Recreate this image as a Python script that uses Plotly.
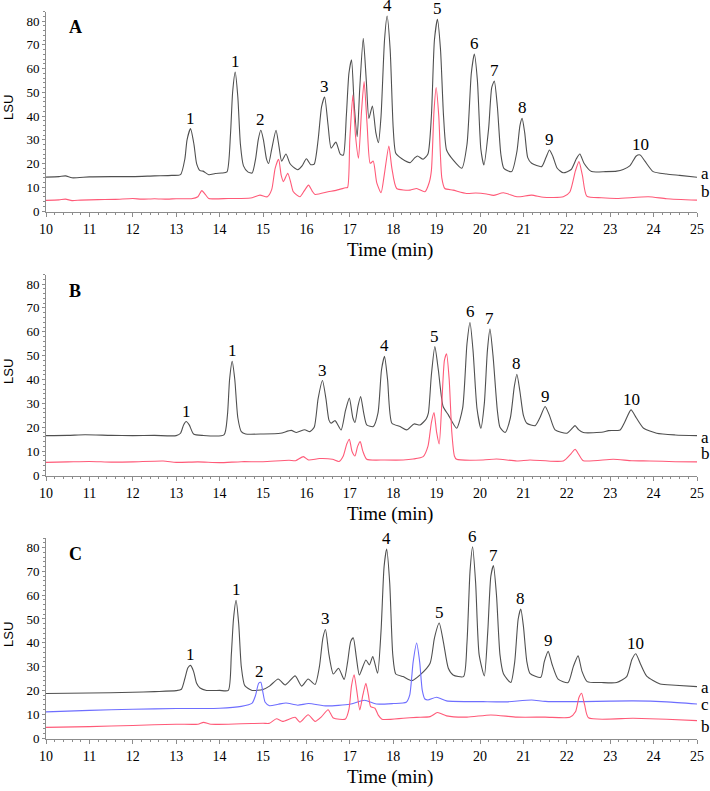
import plotly.graph_objects as go

# ---------------- Panel A ----------------
A_time_a = [10.0, 10.3, 10.45, 10.6, 11.0, 11.5, 12.0, 12.5, 12.9, 13.1, 13.2, 13.25, 13.33, 13.41, 13.47,
            13.55, 13.62, 13.75, 13.9, 14.05, 14.17, 14.25, 14.3, 14.36, 14.42, 14.48, 14.55, 14.65, 14.75,
            14.83, 14.89, 14.95, 15.01, 15.08, 15.13, 15.2, 15.3, 15.37, 15.43, 15.53, 15.62, 15.7, 15.8,
            15.9, 16.0, 16.1, 16.18, 16.27, 16.35, 16.42, 16.5, 16.57, 16.68, 16.78, 16.85, 16.92, 16.98,
            17.04, 17.1, 17.17, 17.23, 17.31, 17.38, 17.44, 17.52, 17.6, 17.66, 17.72, 17.8, 17.86, 17.93,
            18.0, 18.06, 18.2, 18.39, 18.5, 18.56, 18.69, 18.8, 18.88, 18.95, 19.02, 19.09, 19.16, 19.23,
            19.38, 19.58, 19.7, 19.8, 19.87, 19.94, 20.02, 20.09, 20.2, 20.27, 20.33, 20.4, 20.48, 20.55,
            20.73, 20.85, 20.92, 20.97, 21.03, 21.1, 21.19, 21.42, 21.52, 21.6, 21.68, 21.78, 21.92, 22.1,
            22.22, 22.3, 22.4, 22.57, 22.9, 23.15, 23.3, 23.45, 23.6, 23.69, 23.8, 23.99, 24.3, 24.6, 25.0]
A_lsu_a = [14.3, 14.5, 14.8, 14.0, 14.4, 14.5, 14.5, 14.8, 15.0, 15.3, 22, 30, 34.7, 28, 20,
           17, 16.8, 15.3, 15.8, 16, 16.5, 32, 50, 58.5, 48, 28, 19, 16.5, 16.0,
           22, 30, 34, 30, 22, 20, 26, 34, 27, 21, 24, 20, 18.5, 17.4,
           19, 22, 19.5, 19.8, 30, 44, 48, 36, 26.5, 29, 24, 23.5, 40, 58,
           63.7, 45, 31.3, 52, 72.7, 55, 39, 44.2, 33, 28.8, 40, 72, 82.1, 68,
           35, 24.3, 22, 20.4, 22.5, 23.2, 21.8, 24, 40, 72, 80.7, 68, 40, 25.7,
           21.5, 18, 28, 58, 66.1, 55, 26, 19.4, 35, 52, 54.7, 44, 24, 18,
           16.6, 25, 36, 39, 33, 22.5, 20.1, 18.7, 22.5, 25.7, 23, 18, 16.1, 17.5,
           22, 24, 20, 16.6, 16.6, 16.8, 17.5, 19, 23.2, 23.6, 21, 16.6, 15.6, 15, 14.2]

A_time_b = [10.0, 10.3, 10.45, 10.6, 10.8, 11.2, 11.6, 12.0, 12.2, 12.5, 12.8, 13.0, 13.35, 13.5, 13.59,
            13.67, 13.75, 14.2, 14.5, 14.75, 14.93, 15.1, 15.2, 15.28, 15.36, 15.42, 15.47, 15.57, 15.64,
            15.7, 15.85, 15.95, 16.05, 16.13, 16.2, 16.5, 16.7, 16.9, 16.95, 17.0, 17.07, 17.13, 17.2,
            17.27, 17.33, 17.4, 17.47, 17.54, 17.62, 17.72, 17.8, 17.9, 17.97, 18.08, 18.39, 18.54, 18.73,
            18.83, 18.88, 18.94, 18.99, 19.05, 19.12, 19.19, 19.38, 19.69, 19.9, 20.15, 20.31, 20.54, 20.85,
            21.19, 21.46, 21.92, 22.07, 22.2, 22.28, 22.36, 22.46, 22.8, 23.15, 23.88, 24.3, 25.0]
A_lsu_b = [4.5, 4.7, 5.0, 4.4, 4.6, 4.8, 4.9, 5.3, 5.0, 5.2, 5.0, 5.2, 5.2, 6, 8.6,
           7, 5.3, 5.3, 5.3, 5.6, 6.7, 6.0, 9, 18, 21.8, 15, 12.4, 15.9, 12,
           8.1, 6.0, 8.5, 10.9, 8.5, 7, 8.1, 8.8, 9.8, 10, 30, 48.8, 32, 22.2,
           42, 54.5, 36, 20.1, 21, 12, 7.7, 16, 27.4, 18, 9.5, 8.8, 9.5, 8.1,
           12, 17, 42, 52, 40, 14, 9.5, 8.8, 7.4, 7.6, 7.2, 6.6, 7.7, 6.0,
           6.7, 5.8, 6.0, 8, 17, 20.8, 15, 6.3, 5.6, 5.3, 6.0, 5.2, 4.6]

A_peak_labels = ["1", "1", "2", "3", "4", "5", "6", "7", "8", "9", "10"]
A_peak_time = [13.33, 14.36, 14.95, 16.42, 17.86, 19.02, 19.87, 20.33, 20.97, 21.6, 23.69]
A_peak_lsu = [34.7, 58.5, 34, 48, 82.1, 80.7, 66.1, 54.7, 39, 25.7, 23.6]

# ---------------- Panel B ----------------
B_time_a = [10.0, 10.5, 10.9, 11.5, 12.0, 12.5, 13.0, 13.1, 13.17, 13.23, 13.3, 13.4, 13.6, 14.1, 14.18,
            14.23, 14.29, 14.35, 14.42, 14.5, 14.6, 15.0, 15.4, 15.65, 15.77, 15.96, 16.08, 16.18, 16.27,
            16.37, 16.45, 16.52, 16.57, 16.66, 16.8, 16.9, 16.99, 17.07, 17.12, 17.19, 17.25, 17.32, 17.39,
            17.54, 17.65, 17.73, 17.8, 17.87, 17.97, 18.16, 18.31, 18.48, 18.62, 18.76, 18.81, 18.88, 18.96,
            19.04, 19.15, 19.27, 19.46, 19.6, 19.7, 19.77, 19.84, 19.93, 20.02, 20.1, 20.17, 20.23, 20.3,
            20.4, 20.46, 20.58, 20.7, 20.79, 20.85, 20.92, 21.0, 21.08, 21.27, 21.38, 21.5, 21.6, 21.73,
            22.0, 22.12, 22.19, 22.27, 22.38, 22.84, 22.96, 23.23, 23.33, 23.48, 23.6, 23.77, 24.07, 24.5, 25.0]
B_lsu_a = [16.5, 16.6, 16.9, 16.6, 16.5, 16.6, 16.5, 17.5, 21, 22.4, 21, 17.2, 16.6, 16.8, 25,
           40, 47.6, 40, 24, 18.2, 17.2, 17.2, 17.5, 18.7, 17.8, 19.0, 18.2, 20, 32,
           39.6, 32, 23, 21.7, 22.8, 18.9, 27, 32.2, 24, 22, 29, 32.9, 26, 21,
           20.3, 26, 44, 49.7, 40, 21.7, 20.3, 18.9, 21.4, 21, 23.5, 25.9, 42, 53.8,
           44, 28.7, 25.2, 19.6, 28, 55, 63.9, 52, 28, 19.6, 30, 52, 61.1, 50,
           27, 20, 17.8, 24, 37, 42.2, 35, 25, 21.7, 20.7, 24, 28.7, 25, 18.9,
           17.5, 19.5, 20.7, 19, 17.8, 18, 18.6, 18.9, 22, 27.3, 24, 19.6, 17.5, 16.8, 16.5]

B_time_b = [10.0, 10.5, 11.0, 11.5, 12.0, 12.7, 13.0, 13.5, 14.0, 14.5, 15.0, 15.6, 15.75, 15.93, 16.05,
            16.3, 16.6, 16.75, 16.85, 16.93, 16.99, 17.05, 17.12, 17.18, 17.24, 17.3, 17.39, 17.8, 18.23,
            18.46, 18.69, 18.8, 18.88, 18.94, 19.0, 19.06, 19.12, 19.18, 19.23, 19.29, 19.35, 19.41, 19.46,
            20.07, 20.38, 20.85, 21.15, 21.92, 22.1, 22.19, 22.28, 22.38, 23.07, 23.5, 23.91, 24.5, 25.0]
B_lsu_b = [5.3, 5.5, 5.7, 5.4, 5.5, 5.9, 5.3, 5.5, 5.2, 5.6, 5.6, 6.2, 6.0, 7.7, 6.3,
           6.9, 6.6, 5.7, 8, 13, 15, 10, 8, 12, 14, 10, 6.6, 6.3, 6.3,
           6.7, 7.7, 12, 22, 26.2, 18, 13, 30, 48, 50.8, 40, 18, 8, 6.6,
           6.3, 6.7, 5.9, 6.3, 5.9, 9, 10.8, 8.5, 6.0, 6.6, 6.0, 5.9, 5.6, 5.5]

B_peak_labels = ["1", "1", "3", "4", "5", "6", "7", "8", "9", "10"]
B_peak_time = [13.23, 14.29, 16.37, 17.8, 18.96, 19.77, 20.23, 20.85, 21.5, 23.48]
B_peak_lsu = [22.4, 47.6, 39.6, 49.7, 53.8, 63.9, 61.1, 42.2, 28.7, 27.3]

# ---------------- Panel C ----------------
C_time_a = [10.0, 11.0, 12.0, 12.5, 13.0, 13.12, 13.2, 13.27, 13.33, 13.4, 13.47, 13.55, 13.7, 14.0, 14.2,
            14.27, 14.32, 14.38, 14.44, 14.5, 14.58, 14.75, 15.0, 15.15, 15.35, 15.51, 15.74, 15.89, 16.04,
            16.2, 16.3, 16.38, 16.44, 16.52, 16.62, 16.74, 16.87, 16.95, 17.02, 17.08, 17.15, 17.22, 17.37,
            17.45, 17.53, 17.64, 17.72, 17.79, 17.85, 17.92, 17.99, 18.06, 18.23, 18.43, 18.62, 18.85, 18.95,
            19.06, 19.16, 19.27, 19.38, 19.62, 19.7, 19.77, 19.83, 19.9, 19.98, 20.1, 20.18, 20.25, 20.31,
            20.38, 20.46, 20.54, 20.71, 20.8, 20.88, 20.94, 21.0, 21.08, 21.15, 21.4, 21.48, 21.57, 21.66,
            21.8, 22.03, 22.15, 22.26, 22.35, 22.47, 22.8, 23.15, 23.38, 23.5, 23.59, 23.7, 23.84, 24.15,
            24.5, 25.0]
C_lsu_a = [18.7, 18.9, 19.2, 19.5, 19.9, 20.5, 25, 29.5, 30.5, 28, 23, 21, 20, 20, 20,
           35, 50, 57.8, 48, 30, 22, 20, 20.4, 21.8, 24.8, 22.3, 26.1, 21.8, 24.8,
           22.5, 30, 42, 45.6, 35, 26.9, 29.3, 24.6, 32, 40.5, 42.1, 34, 26.5, 32.8,
           30.7, 34.2, 27.2, 45, 72, 79.4, 65, 35, 26.9, 25.8, 24.1, 26.5, 31.4, 42,
           48.3, 40, 29.3, 26.5, 25.8, 40, 70, 80.3, 65, 35, 26.1, 45, 68, 72.4,
           60, 35, 27, 23.3, 32, 50, 54.2, 47, 32, 27.2, 25.5, 32, 36.4, 31,
           24.7, 23.3, 30, 34.5, 28, 23.7, 23.3, 23.3, 25.8, 33, 35.4, 31, 26, 22.7,
           22.2, 21.6]

C_time_c = [10.0, 11.0, 12.0, 13.0, 14.0, 14.5, 14.75, 14.83, 14.9, 14.95, 15.0, 15.05, 15.15, 15.35, 15.53,
            15.8, 16.05, 16.47, 17.0, 17.34, 17.61, 18.0, 18.3, 18.38, 18.46, 18.54, 18.61, 18.67, 18.73,
            18.8, 19.0, 19.23, 20.07, 20.6, 21.19, 21.5, 22.38, 23.0, 23.53, 24.3, 25.0]
C_lsu_c = [11.0, 11.6, 12.1, 12.4, 12.5, 13.3, 14.7, 18, 23, 23.4, 19, 15, 13.6, 14.2, 14.7,
           13.8, 14.5, 13.5, 14.2, 15.9, 14.3, 14.5, 15, 18, 32, 39.9, 32, 20, 16.4,
           16, 17.1, 15.6, 15.3, 15.2, 16, 15.4, 15.3, 15.5, 15.6, 15.2, 14.3]

C_time_b = [10.0, 11.0, 12.0, 13.0, 13.5, 13.63, 13.8, 14.5, 15.0, 15.15, 15.31, 15.45, 15.74, 15.85, 16.04,
            16.2, 16.35, 16.5, 16.62, 16.9, 16.98, 17.04, 17.1, 17.16, 17.23, 17.3, 17.37, 17.43, 17.48,
            17.58, 17.66, 17.74, 18.23, 18.54, 18.85, 19.02, 19.23, 19.7, 20.25, 20.85, 21.5, 22.07, 22.2,
            22.28, 22.34, 22.41, 22.5, 23.53, 24.3, 25.0]
C_lsu_b = [4.5, 4.8, 5.3, 5.8, 5.8, 6.6, 5.8, 6.0, 6.2, 6.2, 8.1, 7.0, 8.7, 6.7, 9.8,
           7.0, 9, 11.9, 8.4, 8.0, 12, 22, 26.6, 20, 11.8, 18, 23, 18, 13.2,
           12.5, 9.5, 7.9, 8.3, 8.7, 9, 10.7, 9.3, 8.8, 9.7, 8.8, 8.8, 8.7, 11,
           17, 18.8, 14, 8.5, 8.3, 7.9, 7.3]

C_peak_labels = ["1", "1", "2", "3", "4", "5", "6", "7", "8", "9", "10"]
C_peak_time = [13.33, 14.38, 14.93, 16.44, 17.85, 19.06, 19.83, 20.31, 20.94, 21.57, 23.59]
C_peak_lsu = [30.5, 57.8, 23.4, 45.6, 79.4, 48.3, 80.3, 72.4, 54.2, 36.4, 35.4]

panel_letters = ["A", "B", "C"]
x_title = "Time (min)"
y_title = "LSU"

# ---------------- layout helpers ----------------
W, H = 710, 791
GRAY = "#505050"
RED = "#ff5a78"
BLUE = "#6e6eff"
AXIS = "#8c8c8c"
SERIF = "Liberation Serif, Times New Roman, serif"
SANS = "Liberation Sans, Arial, sans-serif"


def px(x):
    return x / W


def py(y):
    return 1 - y / H


def paper_note(x, y, text, font, angle=0):
    return dict(x=px(x), y=py(y), xref="paper", yref="paper", text=text, showarrow=False,
                xanchor="center", yanchor="middle", textangle=angle, font=font)


fig = go.Figure()

panels = [
    dict(traces=[(A_time_a, A_lsu_a, GRAY), (A_time_b, A_lsu_b, RED)],
         labels=(A_peak_labels, A_peak_time, A_peak_lsu),
         top=11.5, bottom=212, ends=[("a", 173), ("b", 191)]),
    dict(traces=[(B_time_a, B_lsu_a, GRAY), (B_time_b, B_lsu_b, RED)],
         labels=(B_peak_labels, B_peak_time, B_peak_lsu),
         top=274.5, bottom=476, ends=[("a", 437), ("b", 453)]),
    dict(traces=[(C_time_a, C_lsu_a, GRAY), (C_time_c, C_lsu_c, BLUE), (C_time_b, C_lsu_b, RED)],
         labels=(C_peak_labels, C_peak_time, C_peak_lsu),
         top=538, bottom=739, ends=[("a", 687), ("c", 704), ("b", 726)]),
]

annotations = []
layout_axes = {}
for i, p in enumerate(panels):
    n = "" if i == 0 else str(i + 1)
    xa, ya = "x" + n, "y" + n
    for (t, v, c) in p["traces"]:
        fig.add_trace(go.Scatter(x=t, y=v, mode="lines", xaxis=xa, yaxis=ya,
                                 line=dict(color=c, width=1.1, shape="spline", smoothing=0.6),
                                 showlegend=False, hoverinfo="skip"))
    layout_axes["xaxis" + n] = dict(
        domain=[px(46), px(697)], range=[10, 25], anchor=ya, dtick=1, tick0=10, automargin=False,
        showline=True, linecolor=AXIS, linewidth=1, ticks="outside", ticklen=4, tickcolor=AXIS,
        minor=dict(dtick=0.2, ticks="outside", ticklen=2, tickcolor=AXIS),
        showgrid=False, zeroline=False, tickfont=dict(family=SERIF, size=14, color="black"))
    layout_axes["yaxis" + n] = dict(
        domain=[py(p["bottom"]), py(p["top"])], range=[-0.4, 84], anchor=xa, dtick=10, tick0=0,
        automargin=False,
        showline=True, linecolor=AXIS, linewidth=1, ticks="outside", ticklen=3, tickcolor=AXIS,
        minor=dict(dtick=2, ticks="outside", ticklen=2, tickcolor=AXIS),
        showgrid=False, zeroline=False, tickfont=dict(family=SERIF, size=13, color="black"))
    labs, lt, lv = p["labels"]
    for s, t, v in zip(labs, lt, lv):
        annotations.append(dict(x=t, y=v, xref=xa, yref=ya, text=s, showarrow=False,
                                xanchor="center", yanchor="bottom", yshift=-1,
                                font=dict(family=SERIF, size=17, color="black")))
    annotations.append(paper_note(75, p["top"] + 16, "<b>%s</b>" % panel_letters[i],
                                  dict(family=SERIF, size=18, color="black")))
    annotations.append(paper_note(390, p["bottom"] + 38, x_title,
                                  dict(family=SERIF, size=19, color="black")))
    annotations.append(paper_note(8, p["bottom"] - 104, y_title,
                                  dict(family=SANS, size=13, color="black"), angle=-90))
    for s, yy in p["ends"]:
        annotations.append(paper_note(705, yy, s, dict(family=SERIF, size=17, color="black")))

fig.update_layout(width=W, height=H, margin=dict(l=0, r=0, t=0, b=0, pad=0),
                  paper_bgcolor="white", plot_bgcolor="white", template="none",
                  annotations=annotations, **layout_axes)

fig.write_html("out.html", config={"displayModeBar": False},
               post_script="document.body.style.margin='0px';")
